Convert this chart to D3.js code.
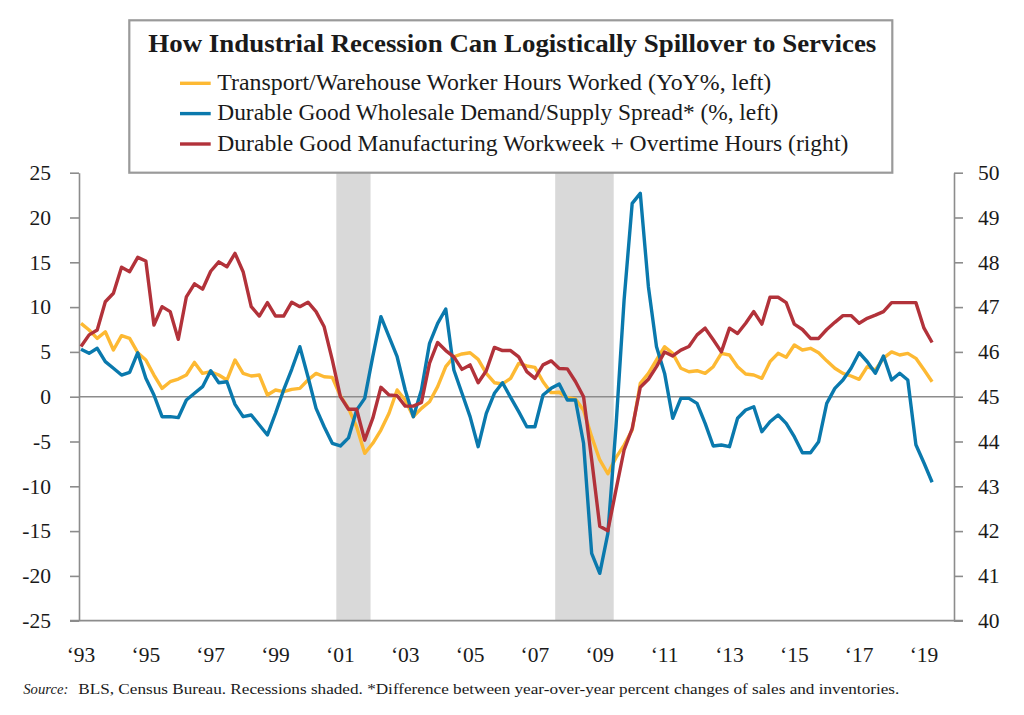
<!DOCTYPE html>
<html>
<head>
<meta charset="utf-8">
<script src="https://cdn.jsdelivr.net/npm/d3@7"></script>
<style>
  html, body { margin: 0; padding: 0; background: #fff; }
  svg { display: block; }
  text { font-family: "Liberation Serif", "DejaVu Serif", serif; fill: #1a1a1a; }
</style>
</head>
<body>
<svg id="chart" width="1024" height="715"></svg>
<script>
// ---------------- Data (quarterly, 1993Q1 .. 2019Q2) ----------------
const startYear = 1993;
const transportHours = [
  8.19, 7.44, 6.51, 7.25, 5.21, 6.81, 6.51, 4.91, 4.1, 2.42,
  0.93, 1.67, 1.97, 2.42, 3.83, 2.6, 2.79, 2.42, 1.86, 4.1,
  2.6, 2.31, 2.42, 0.19, 0.75, 0.56, 0.82, 0.93, 1.86, 2.6,
  2.23, 2.16, 0.08, -1.3, -3.35, -6.32, -5.2, -3.72, -1.85, 0.75,
  -0.37, -2.23, -1.3, -0.56, 1.12, 3.35, 4.46, 4.77, 4.91, 4.17,
  2.6, 1.56, 1.42, 2.05, 3.72, 3.43, 3.28, 1.67, 0.45, 0.5,
  -0.1, -0.25, -1.5, -4.46, -7.06, -8.6, -6.8, -5.4, -3.72, 1.49,
  2.6, 4.1, 5.58, 4.84, 3.17, 2.79, 2.9, 2.6, 3.35, 4.84,
  4.65, 3.35, 2.53, 2.42, 2.05, 3.91, 4.84, 4.4, 5.77, 5.21,
  5.4, 4.9, 4.0, 3.17, 2.6, 2.31, 1.94, 3.35, 2.98, 4.3,
  5.0, 4.65, 4.84, 4.28, 3.0, 1.67
];
const wholesaleSpread = [
  5.29, 4.84, 5.4, 3.91, 3.17, 2.42, 2.72, 4.91, 2.05, 0.19,
  -2.23, -2.23, -2.34, -0.37, 0.38, 1.12, 2.9, 1.56, 1.67, -0.85,
  -2.23, -2.04, -3.16, -4.27, -1.85, 0.75, 3.06, 5.58, 2.23, -1.3,
  -3.35, -5.2, -5.5, -4.6, -1.5, -0.19, 4.5, 8.93, 6.7, 4.46,
  0.75, -2.23, 0.75, 5.96, 8.19, 9.79, 2.98, 0.38, -2.23, -5.58,
  -1.85, 0.38, 1.56, -0.07, -1.67, -3.35, -3.35, 0.19, 0.93, 1.42,
  -0.37, -0.37, -5.2, -17.48, -19.71, -15.25, -3.35, 10.79, 21.58, 22.7,
  12.28, 5.58, 2.6, -2.41, -0.19, -0.19, -0.74, -2.97, -5.5, -5.39,
  -5.58, -2.41, -1.48, -1.12, -3.91, -2.79, -2.04, -2.97, -4.46, -6.25,
  -6.25, -5.02, -0.74, 0.93, 1.86, 3.17, 4.91, 3.9, 2.61, 4.54,
  1.86, 2.61, 1.86, -5.37, -7.4, -9.55
];
const mfgWorkweek = [
  46.12, 46.38, 46.49, 47.12, 47.31, 47.89, 47.79, 48.11, 48.03, 46.6,
  47.01, 46.9, 46.28, 47.23, 47.52, 47.4, 47.8, 48.01, 47.9, 48.2,
  47.79, 47.01, 46.8, 47.1, 46.8, 46.8, 47.11, 47.01, 47.11, 46.9,
  46.56, 45.82, 45.0, 44.72, 44.72, 44.03, 44.52, 45.21, 45.04, 45.02,
  44.79, 44.79, 44.87, 45.75, 46.21, 46.03, 45.89, 45.61, 45.71, 45.31,
  45.58, 46.1, 46.03, 46.03, 45.89, 45.56, 45.41, 45.71, 45.8, 45.63,
  45.62, 45.34, 45.0, 43.6, 42.11, 42.01, 42.92, 43.81, 44.29, 45.21,
  45.39, 45.67, 46.0, 45.91, 46.04, 46.12, 46.38, 46.53, 46.27, 46.0,
  46.53, 46.41, 46.64, 46.9, 46.62, 47.22, 47.22, 47.1, 46.62, 46.5,
  46.3, 46.3, 46.5, 46.66, 46.81, 46.81, 46.64, 46.75, 46.82, 46.9,
  47.1, 47.1, 47.1, 47.1, 46.53, 46.21
];
// recessions: first and last quarter (decimal year of quarter start)
const recessions = [[2001.0, 2001.75], [2007.75, 2009.25]];
const xTickYears = [1993, 1995, 1997, 1999, 2001, 2003, 2005, 2007, 2009, 2011, 2013, 2015, 2017, 2019];
const leftTicks = [-25, -20, -15, -10, -5, 0, 5, 10, 15, 20, 25];
const rightTicks = [40, 41, 42, 43, 44, 45, 46, 47, 48, 49, 50];
const seriesNames = [
  "Transport/Warehouse Worker Hours Worked (YoY%, left)",
  "Durable Good Wholesale Demand/Supply Spread* (%, left)",
  "Durable Good Manufacturing Workweek + Overtime Hours (right)"
];
const titleText = "How Industrial Recession Can Logistically Spillover to Services";

// ---------------- Layout ----------------
const colors = { yellow: "#FDB933", blue: "#0A79AD", red: "#B2323A", rec: "#D9D9D9", axis: "#8C8C8C" };
const plotLeft = 79, plotRight = 954, plotTop = 172.7, plotBottom = 620.7;

const svg = d3.select("#chart");
const x = d3.scaleLinear().domain([1993, 2019]).range([81, 924]);
const yL = d3.scaleLinear().domain([-25, 25]).range([plotBottom, plotTop]);
const yR = d3.scaleLinear().domain([40, 50]).range([plotBottom, plotTop]);
const q = i => startYear + i / 4;

// recession shading (half a quarter on each side of the recession quarters)
svg.append("g").selectAll("rect").data(recessions).join("rect")
  .attr("x", d => x(d[0] - 0.125))
  .attr("width", d => x(d[1] + 0.18) - x(d[0] - 0.125))
  .attr("y", plotTop)
  .attr("height", plotBottom - plotTop)
  .attr("fill", colors.rec);

// zero line
svg.append("line")
  .attr("x1", plotLeft).attr("x2", plotRight)
  .attr("y1", yL(0)).attr("y2", yL(0))
  .attr("stroke", colors.axis).attr("stroke-width", 1.6);

// left axis
const gL = svg.append("g").attr("transform", `translate(${plotLeft},0)`)
  .call(d3.axisLeft(yL).tickValues(leftTicks).tickFormat(d => String(d))
    .tickSize(9).tickSizeOuter(0).tickPadding(19));
// right axis
const gR = svg.append("g").attr("transform", `translate(${plotRight},0)`)
  .call(d3.axisRight(yR).tickValues(rightTicks).tickFormat(d => String(d))
    .tickSize(9).tickSizeOuter(0).tickPadding(15));
[gL, gR].forEach(g => {
  g.select(".domain").attr("stroke", colors.axis).attr("stroke-width", 1.6);
  g.selectAll(".tick line").attr("stroke", colors.axis).attr("stroke-width", 1.6);
  g.selectAll(".tick text").attr("font-size", 21.5).attr("fill", "#1a1a1a")
    .attr("font-family", "Liberation Serif, serif");
});

// bottom baseline
svg.append("line")
  .attr("x1", plotLeft - 9).attr("x2", plotRight + 9)
  .attr("y1", yL(-25)).attr("y2", yL(-25))
  .attr("stroke", colors.axis).attr("stroke-width", 1.8);

// x labels
svg.append("g").selectAll("text").data(xTickYears).join("text")
  .attr("x", d => x(d))
  .attr("y", 662)
  .attr("text-anchor", "middle")
  .attr("font-size", 21.5)
  .text(d => "\u2018" + String(d).slice(2));

// lines
const lineL = d3.line().x((d, i) => x(q(i))).y(d => yL(d));
const lineR = d3.line().x((d, i) => x(q(i))).y(d => yR(d));
svg.append("path").datum(transportHours).attr("d", lineL)
  .attr("fill", "none").attr("stroke", colors.yellow).attr("stroke-width", 3.4).attr("stroke-linejoin", "round");
svg.append("path").datum(wholesaleSpread).attr("d", lineL)
  .attr("fill", "none").attr("stroke", colors.blue).attr("stroke-width", 3.4).attr("stroke-linejoin", "round");
svg.append("path").datum(mfgWorkweek).attr("d", lineR)
  .attr("fill", "none").attr("stroke", colors.red).attr("stroke-width", 3.4).attr("stroke-linejoin", "round");

// title / legend box
svg.append("rect")
  .attr("x", 129.3).attr("y", 20.3).attr("width", 763).attr("height", 152.4)
  .attr("fill", "#fff").attr("stroke", "#9a9a9a").attr("stroke-width", 2.2);
svg.append("text")
  .attr("x", 148.3).attr("y", 51.7)
  .attr("font-size", 25.5).attr("font-weight", "bold")
  .attr("textLength", 728).attr("lengthAdjust", "spacingAndGlyphs")
  .text(titleText);

const legendColors = [colors.yellow, colors.blue, colors.red];
const legendWidths = [554, 561, 631];
const legendBase = [90, 120.3, 150.7];
const lg = svg.append("g");
seriesNames.forEach((name, i) => {
  lg.append("line")
    .attr("x1", 180).attr("x2", 210.7)
    .attr("y1", legendBase[i] - 6.7).attr("y2", legendBase[i] - 6.7)
    .attr("stroke", legendColors[i]).attr("stroke-width", 3.4);
  lg.append("text")
    .attr("x", 217.3).attr("y", legendBase[i])
    .attr("font-size", 22.5)
    .attr("textLength", legendWidths[i]).attr("lengthAdjust", "spacingAndGlyphs")
    .text(name);
});

// source note
svg.append("text")
  .attr("x", 23.3).attr("y", 693.5)
  .attr("font-size", 15.5).attr("font-style", "italic")
  .attr("textLength", 45).attr("lengthAdjust", "spacingAndGlyphs")
  .text("Source:");
svg.append("text")
  .attr("x", 78.3).attr("y", 693.5)
  .attr("font-size", 15.5)
  .attr("textLength", 821).attr("lengthAdjust", "spacingAndGlyphs")
  .text("BLS, Census Bureau. Recessions shaded. *Difference between year-over-year percent changes of sales and inventories.");
</script>
</body>
</html>
